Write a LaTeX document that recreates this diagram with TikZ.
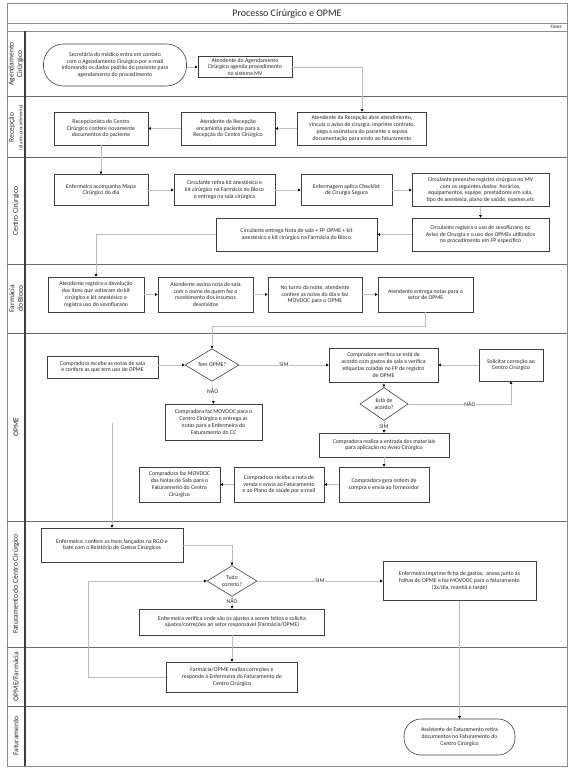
\documentclass[tikz,border=0pt]{standalone}
\usepackage{fontspec}
\setmainfont{Carlito}
\usetikzlibrary{arrows.meta,shapes.geometric}
\definecolor{boxc}{HTML}{3F3F3F}
\definecolor{linec}{HTML}{BDBDBD}
\definecolor{lanec}{HTML}{6E6E6E}
\definecolor{framec}{HTML}{8C8C8C}
\definecolor{txtc}{HTML}{262626}
\begin{document}
\begin{tikzpicture}[x=1pt,y=-1pt,
  box/.style={draw=boxc,line width=0.6pt,fill=white,align=center,
    font=\fontsize{5.8}{6.8}\selectfont,text=txtc,inner sep=1pt},
  term/.style={box,rounded corners=17pt},
  dia/.style={draw=boxc,line width=0.6pt,fill=white,diamond,align=center,
    font=\fontsize{5.8}{6.8}\selectfont,text=txtc,inner sep=0pt},
  lane/.style={rotate=90,align=center,font=\fontsize{7.5}{8.5}\selectfont,text=txtc},
  conn/.style={draw=linec,line width=0.45pt,
    -{Triangle[length=2.6pt,width=2.6pt,color=black]}},
  lbl/.style={fill=white,inner sep=0.6pt,font=\fontsize{5.8}{6.8}\selectfont,text=txtc}]
\useasboundingbox (0,0) rectangle (575,770);
% frame and lanes
\draw[framec,line width=0.7pt] (7,3) rectangle (567,766);
\draw[framec,line width=0.6pt] (7,23) -- (567,23);
\draw[framec,line width=0.6pt] (7,31) -- (567,31);
\foreach \yy in {97,158,264,333,521,647,706}
  \draw[lanec,line width=1pt] (7,\yy) -- (567,\yy);
\draw[boxc,line width=1.5pt] (25,31) -- (25,766);
\node[font=\fontsize{10}{12}\selectfont,text=txtc] (title) at (287,13.5) {Processo Cirúrgico e OPME};
\node[font=\fontsize{5}{6}\selectfont,text=txtc,anchor=east] (fases) at (565,27.2) {Fases};
% lane labels
\node[lane] (L1) at (16,64) {Agendamento\\Cirúrgico};
\node[lane] (L2) at (16,127.5) {Recepção\\{\fontsize{5}{6}\selectfont(dia do procedimento)}};
\node[lane] (L3) at (16,211) {Centro Cirúrgico};
\node[lane] (L4) at (16,298.5) {Farmácia\\do Bloco};
\node[lane] (L5) at (16,427) {OPME};
\node[lane] (L6) at (16,584) {Faturamento do Centro Cirúrgico};
\node[lane] (L7) at (16,676.5) {OPME/Farmácia};
\node[lane] (L8) at (16,736) {Faturamento};
% Agendamento
\node[term,rounded corners=20pt,minimum width=143pt,minimum height=42pt] (T1) at (115,65)
  {Secretária do médico entra em contato\\com o Agendamento Cirúrgico por e-mail\\infomando os dados padrão do paciente para\\agendamento do procedimento};
\node[box,minimum width=94pt,minimum height=21pt] (A1) at (245,67)
  {Atendente do Agendamento\\Cirúrgico agenda procedimento\\no sistema MV};
% Recepcao
\node[box,minimum width=129pt,minimum height=33pt] (R1) at (362,128.5)
  {Atendente da Recepção abre atendimento,\\vincula o aviso de cirurgia, imprime contrato,\\pega a assinatura do paciente e separa\\documentação para envio ao faturamento};
\node[box,minimum width=94pt,minimum height=33pt] (R2) at (228,128.5)
  {Atendente da Recepção\\encaminha paciente para a\\Recepção do Centro Cirúrgico};
\node[box,minimum width=94pt,minimum height=33pt] (R3) at (101,128.5)
  {Recepcionista do Centro\\Cirúrgico confere novamente\\documentos do paciente};
% Centro Cirurgico
\node[box,minimum width=94pt,minimum height=31pt] (C1) at (101,190)
  {Enfermeira acompanha Mapa\\Cirúrgico do dia};
\node[box,minimum width=101pt,minimum height=31pt] (C2) at (224.5,190)
  {Circulante retira kit anestésico e\\kit cirúrgico na Farmácia do Bloco\\e entrega na sala cirúrgica};
\node[box,minimum width=91pt,minimum height=31pt] (C3) at (346.5,190)
  {Enfermagem aplica Checklist\\de Cirurgia Segura};
\node[box,minimum width=137pt,minimum height=33pt] (C4) at (480.5,190)
  {Circulante preenche registro cirúrgico no MV\\com os seguintes dados: horários,\\equipamentos, equipe, prestadores em sala,\\tipo de anestesia, plano de saúde, exames,etc};
\node[box,minimum width=137pt,minimum height=33pt] (C5) at (480.5,234.5)
  {Circulante registra o uso de sevoflurano no\\Aviso de Cirurgia e o uso dos OPMEs utilizados\\no procedimento em FP específico};
\node[box,minimum width=161pt,minimum height=33pt] (C6) at (296.5,234.5)
  {Circulante entrega Nota de sala + FP OPME + kit\\anestésico e kit cirúrgico na Farmácia do Bloco};
% Farmacia do Bloco
\node[box,minimum width=96pt,minimum height=35pt] (F1) at (96,294.5)
  {Atendente registra a devolução\\dos itens que voltaram do kit\\cirúrgico e kit anestésico e\\registra uso do sevoflurano};
\node[box,minimum width=95pt,minimum height=35pt] (F2) at (205.5,294.5)
  {Atendente assina nota de sala\\com o nome de quem fez o\\recebimento dos insumos\\devolvidos};
\node[box,minimum width=94pt,minimum height=35pt] (F3) at (315,294.5)
  {No turno da noite, atendente\\confere as notas do dia e faz\\MOVDOC para o OPME};
\node[box,minimum width=95pt,minimum height=35pt] (F4) at (425.5,294.5)
  {Atendente entrega notas para o\\setor de OPME};
% OPME
\node[box,minimum width=111pt,minimum height=22pt] (O1) at (102.5,367)
  {Compradora recebe as notas de sala\\e confere as que tem uso de OPME};
\node[dia,minimum width=54pt,minimum height=32pt] (O2) at (212,365) {Tem OPME?};
\node[box,minimum width=109pt,minimum height=34pt] (O3) at (383.5,365)
  {Compradora verifica se está de\\acordo com gastos de sala e verifica\\etiquetas coladas no FP de registro\\de OPME};
\node[box,minimum width=64pt,minimum height=32pt] (O5) at (511,365)
  {Solicitar correção ao\\Centro Cirúrgico};
\node[dia,minimum width=48pt,minimum height=33pt] (O6) at (384,404) {Está de\\acordo?};
\node[box,minimum width=97pt,minimum height=36pt] (O4) at (213.5,422)
  {Compradora faz MOVDOC para o\\Centro Cirúrgico e entrega as\\notas para a Enfermeira do\\Faturamento do CC};
\node[box,minimum width=130pt,minimum height=24pt] (O8) at (384,445)
  {Compradora realiza a entrada dos materiais\\para aplicação no Aviso Cirúrgico};
\node[box,minimum width=90pt,minimum height=35pt] (O9) at (384,484.5)
  {Compradora gera ordem de\\compra e envia ao fornecedor};
\node[box,minimum width=90pt,minimum height=35pt] (O10) at (279,484.5)
  {Compradora recebe a nota de\\venda e envia ao Faturamento\\e ao Plano de saúde por e-mail};
\node[box,minimum width=81pt,minimum height=35pt] (O7) at (179.5,484.5)
  {Compradora faz MOVDOC\\das Notas de Sala para o\\Faturamento do Centro\\Cirúrgico};
% Faturamento do CC
\node[box,minimum width=142pt,minimum height=34pt] (E1) at (112,545)
  {Enfermeira: confere os itens lançados na RGO e\\bate com o Relatório de Gastos Cirúrgicos};
\node[dia,minimum width=50pt,minimum height=27pt] (D1) at (232,581) {Tudo\\correto?};
\node[box,minimum width=185pt,minimum height=26pt] (E2) at (232,622)
  {Enfermeira verifica onde são os ajustes a serem feitos e solicita\\ajustes/correções ao setor responsável (Farmácia/OPME)};
\node[box,minimum width=153pt,minimum height=39pt] (E3) at (459.5,581)
  {Enfermeira imprime ficha de gastos,\ \ anexa junto às\\folhas do OPME e faz MOVDOC para o faturamento\\(2x/dia, manhã e tarde)};
% OPME/Farmacia
\node[box,minimum width=131pt,minimum height=30pt] (G1) at (232,677)
  {Farmácia/OPME realiza correções e\\responde à Enfermeira do Faturamento do\\Centro Cirúrgico};
% Faturamento
\node[term,minimum width=111pt,minimum height=36pt] (T2) at (459.5,737)
  {Assistente de Faturamento retira\\documentos no Faturamento do\\Centro Cirúrgico};
% helper coordinates
\coordinate (k2) at (112,423);
\coordinate (k3) at (88,677);
% connectors
\draw[conn] (A1.west -| T1.east) -- (A1.west);
\draw[conn] (A1.east) -| (R1.north);
\draw[conn] (R1.west) -- (R2.east);
\draw[conn] (R2.west) -- (R3.east);
\draw[conn] (R3.south) -- (C1.north);
\draw[conn] (C1.east) -- (C2.west);
\draw[conn] (C2.east) -- (C3.west);
\draw[conn] (C3.east) -- (C4.west);
\draw[conn] (C4.south) -- (C5.north);
\draw[conn] (C5.west) -- (C6.east);
\draw[conn] (C6.west) -| (F1.north);
\draw[conn] (F1.east) -- (F2.west);
\draw[conn] (F2.east) -- (F3.west);
\draw[conn] (F3.east) -- (F4.west);
\draw[conn] (F4.south) -- ++(0,14) -| (O2.north);
\draw[conn] (O2.west -| O1.east) -- (O2.west);
\draw[conn] (O2.east) -- node[lbl] {SIM} (O3.west);
\draw[conn] (O2.south) -- node[lbl,pos=0.45] {NÃO} (O4.north);
\draw[conn] (O5.west) -- (O3.east);
\draw[conn] (O3.south) -- (O6.north);
\draw[conn] (O6.east) -| node[lbl,pos=0.3] {NÃO} (O5.south);
\draw[conn] (O6.south) -- node[lbl,pos=0.45] {SIM} (O8.north);
\draw[conn] (O8.south) -- (O9.north);
\draw[conn] (O9.west) -- (O10.east);
\draw[conn] (O10.west) -- (O7.east);
\draw[conn] (k2) -- (E1.north);
\draw[conn] (E1.east) -| (D1.north);
\draw[conn] (D1.east) -- node[lbl] {SIM} (E3.west);
\draw[conn] (D1.south) -- node[lbl,pos=0.4] {NÃO} (E2.north);
\draw[conn] (E2.south) -- (G1.north);
\draw[conn] (G1.west) -- (k3) |- (D1.west);
\draw[conn] (E3.south) -- (T2.north);
\end{tikzpicture}
\end{document}
